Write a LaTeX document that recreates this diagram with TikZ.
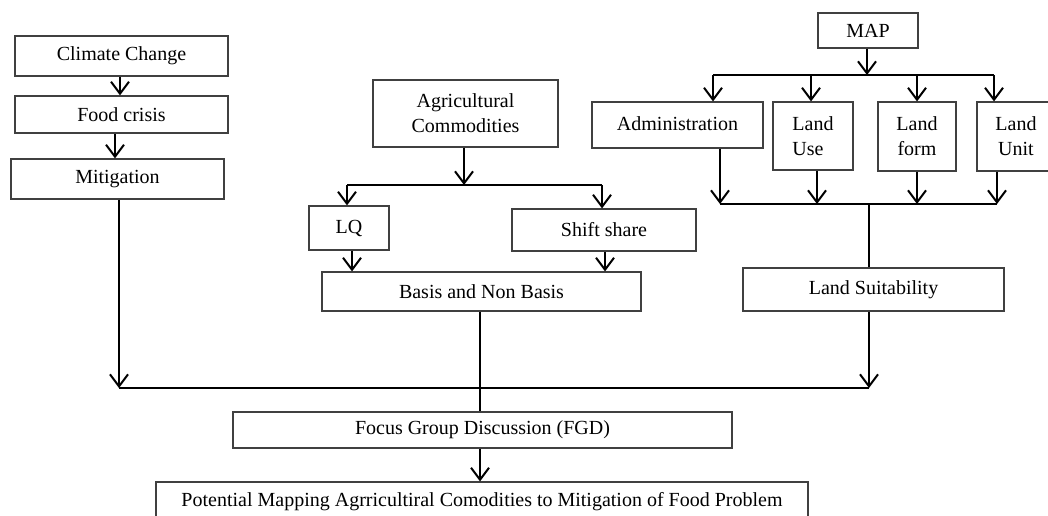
\documentclass[tikz,border=0pt]{standalone}
\usepackage{fontspec}
\setmainfont{Liberation Serif}
\usetikzlibrary{arrows.meta}
\tikzset{
  box/.style={draw=black!75, line width=1.2pt, inner sep=0pt, rectangle, align=center,
    font=\fontsize{20}{25}\selectfont},
  conn/.style={draw=black, line width=2pt},
  arr/.style={conn, -{Straight Barb[length=12pt,width=18pt,line width=2pt]}}
}
\begin{document}
\begin{tikzpicture}[x=1pt,y=-1pt]
\clip (0,0) rectangle (1048,515);
\fill[white] (0,0) rectangle (1048,515);
% left column
\node[box, minimum width=213, minimum height=40] (cc) at (121.5,56) {Climate Change};
\node[box, minimum width=213, minimum height=37] (fc) at (121.5,114.5) {Food crisis};
\node[box, minimum width=213, minimum height=40] (mit) at (117.5,179) {Mitigation};
% middle
\node[box, minimum width=185, minimum height=67] (ag) at (465.5,113.5) {Agricultural\\Commodities};
\node[box, minimum width=80, minimum height=44] (lq) at (349,228) {LQ};
\node[box, minimum width=184, minimum height=42] (ss) at (604,230) {Shift share};
\node[box, minimum width=319, minimum height=39] (bnb) at (481.5,291.5) {Basis and Non Basis};
% right
\node[box, minimum width=100, minimum height=35] (map) at (868,30.5) {MAP};
\node[box, minimum width=171, minimum height=46] (adm) at (677.5,125) {\raisebox{3pt}{Administration}};
\node[box, minimum width=80, minimum height=68, align=left] (lu) at (813,136) {Land\\Use};
\node[box, minimum width=78, minimum height=69] (lf) at (917,136.5) {Land\\form};
\node[box, minimum width=78, minimum height=69] (lun) at (1016,136.5) {Land\\Unit};
\node[box, minimum width=261, minimum height=43] (ls) at (873.5,289.5) {Land Suitability};
% bottom
\node[box, minimum width=499, minimum height=36] (fgd) at (482.5,430) {Focus Group Discussion (FGD)};
\node[box, minimum width=652, minimum height=40] (pm) at (482,502) {Potential Mapping Agrricultiral Comodities to Mitigation of Food Problem};
% coordinates
\coordinate (jl) at (119,388);
\coordinate (jr) at (869,388);
\coordinate (aj) at (464,185);
\coordinate (al) at (347,185);
\coordinate (ar) at (602,185);
\coordinate (mj) at (867,75);
\coordinate (ml) at (713,75);
\coordinate (mr) at (994,75);
\coordinate (bl) at (720,204);
\coordinate (br) at (997,204);
\coordinate (bm) at (869,204);
% left connectors
\draw[arr] (cc.south -| 120,0) -- (fc.north -| 120,0);
\draw[arr] (fc.south -| 115,0) -- (mit.north -| 115,0);
\draw[arr] (mit.south -| jl) -- (jl);
\draw[conn] (jl) -- (jr);
\draw[arr] (jr |- ls.south) -- (jr);
% middle connectors
\draw[arr] (ag.south -| aj) -- (aj);
\draw[conn] (al) -- (ar);
\draw[arr] (al) -- (al |- lq.north);
\draw[arr] (ar) -- (ar |- ss.north);
\draw[arr] (lq.south -| 352,0) -- (bnb.north -| 352,0);
\draw[arr] (ss.south -| 605,0) -- (bnb.north -| 605,0);
\draw[conn] (bnb.south -| 480,0) -- (fgd.north -| 480,0);
\draw[arr] (fgd.south -| 480,0) -- (pm.north -| 480,0);
% map connectors
\draw[arr] (map.south -| mj) -- (mj);
\draw[conn] (ml) -- (mr);
\draw[arr] (ml) -- (ml |- adm.north);
\draw[arr] (ml -| 811,0) -- (lu.north -| 811,0);
\draw[arr] (ml -| lf.north) -- (lf.north);
\draw[arr] (mr) -- (mr |- lun.north);
\draw[arr] (bl |- adm.south) -- (bl);
\draw[arr] (lu.south -| 817,0) -- (bl -| 817,0);
\draw[arr] (lf.south) -- (lf.south |- bl);
\draw[arr] (br |- lun.south) -- (br);
\draw[conn] (bl) -- (br);
\draw[conn] (bm) -- (bm |- ls.north);
\end{tikzpicture}
\end{document}
